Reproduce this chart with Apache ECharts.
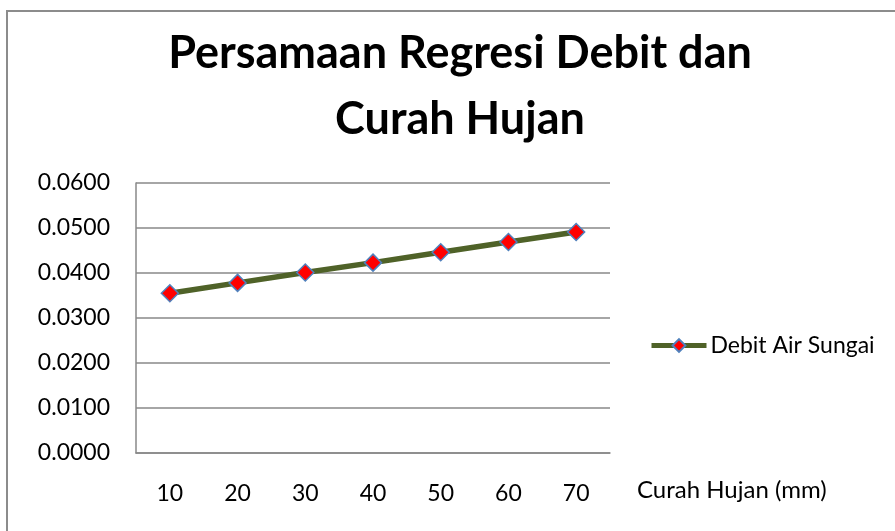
<!DOCTYPE html>
<html>
<head>
<meta charset="utf-8">
<script src="https://cdn.jsdelivr.net/npm/echarts@6/dist/echarts.min.js"></script>
<style>
html,body{margin:0;padding:0;background:#fff;}
#chart{width:895px;height:531px;}
</style>
</head>
<body>
<div id="chart"></div>
<script>
const categories = ['10', '20', '30', '40', '50', '60', '70'];
const debitValues = [0.0355, 0.0378, 0.0401, 0.0423, 0.0446, 0.0469, 0.0491];
const seriesName = 'Debit Air Sungai';
const titleText = 'Persamaan Regresi Debit dan\nCurah Hujan';
const xAxisName = 'Curah Hujan (mm)';

const FONT = 'Lato, "Open Sans", sans-serif';
const chart = echarts.init(document.getElementById('chart'), null, {renderer: 'canvas'});
chart.setOption({
  animation: false,
  backgroundColor: '#fff',
  textStyle: {fontFamily: FONT},
  graphic: [{
    type: 'rect',
    shape: {x: 7, y: 11, width: 900, height: 540},
    style: {fill: 'none', stroke: '#8c8c8c', lineWidth: 2},
    silent: true,
    z: -1
  }],
  title: {
    text: titleText,
    left: 455,
    top: 15,
    textAlign: 'center',
    textStyle: {fontFamily: FONT, fontSize: 45, fontWeight: 'bold', color: '#000', lineHeight: 66}
  },
  legend: {
    data: [seriesName],
    left: 649,
    top: 334,
    padding: 0,
    itemWidth: 55,
    itemHeight: 16,
    itemGap: 4,
    lineStyle: {width: 5},
    textStyle: {fontFamily: FONT, fontSize: 23, color: '#000', padding: [0, 0, 0, -1]}
  },
  grid: {left: 136, right: 285, top: 183, bottom: 78, containLabel: false},
  xAxis: {
    type: 'category',
    data: categories,
    boundaryGap: true,
    name: xAxisName,
    nameLocation: 'end',
    nameGap: 27,
    nameTextStyle: {fontFamily: FONT, fontSize: 24, color: '#000', verticalAlign: 'top', padding: [25, 0, 0, 0]},
    axisLine: {lineStyle: {color: '#888888', width: 1.5}},
    axisTick: {show: false},
    axisLabel: {fontFamily: FONT, fontSize: 23, color: '#000', margin: 29}
  },
  yAxis: {
    type: 'value',
    min: 0,
    max: 0.06,
    interval: 0.01,
    axisLine: {show: true, lineStyle: {color: '#888888', width: 1.5}},
    axisTick: {show: false},
    splitLine: {lineStyle: {color: '#888888', width: 1.5}},
    axisLabel: {fontFamily: FONT, fontSize: 23, color: '#000', margin: 26,
      formatter: v => v.toFixed(4)}
  },
  series: [{
    name: seriesName,
    type: 'line',
    data: debitValues,
    lineStyle: {color: '#4F6228', width: 5.5},
    itemStyle: {color: '#FF0000', borderColor: '#4F81BD', borderWidth: 1.5},
    symbol: 'diamond',
    symbolSize: 17,
    showSymbol: true
  }]
});
</script>
</body>
</html>
